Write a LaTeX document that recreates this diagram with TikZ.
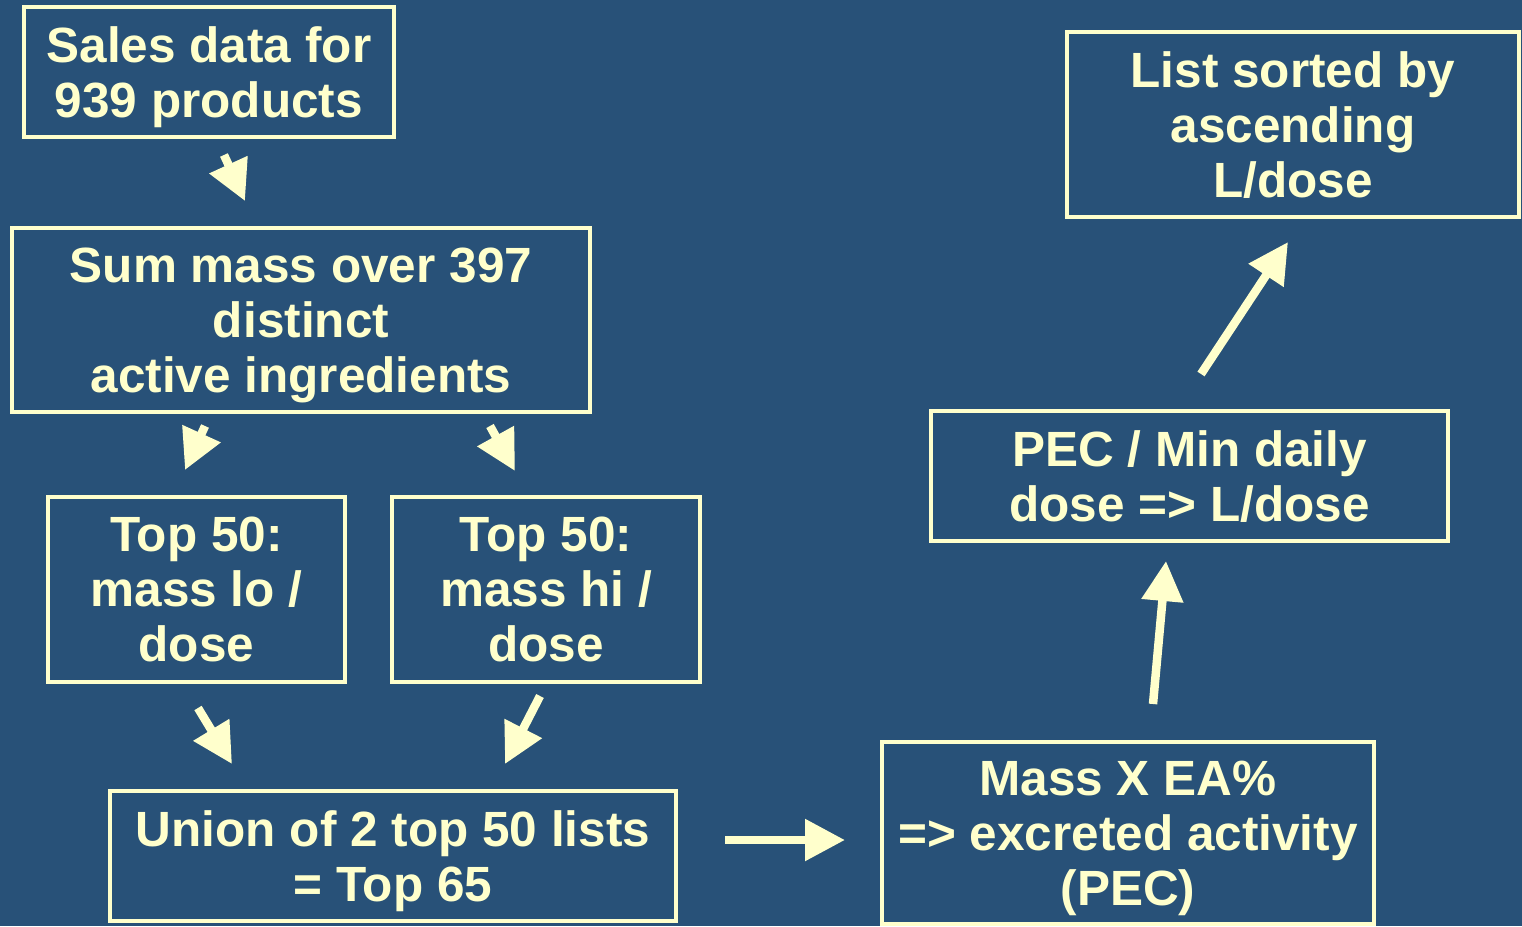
\documentclass[tikz,border=0pt]{standalone}
\usepackage{fontspec}
\setmainfont{Liberation Sans}
\usepackage{xcolor}
\usetikzlibrary{arrows.meta}
\definecolor{slide}{RGB}{40,81,120}
\definecolor{chalk}{RGB}{255,255,204}
\tikzset{
box/.style={draw=chalk,line width=4pt,text=chalk,align=center,inner sep=0pt,
text depth=0pt,font=\fontsize{49.5}{55}\selectfont\bfseries},
flow/.style={draw=chalk,fill=chalk,line width=8.5pt,-{Triangle[length=40pt,width=40pt]}}
}

\begin{document}
\begin{tikzpicture}[x=1pt,y=-1pt]
\fill[slide] (0,0) rectangle (1522,926);
\useasboundingbox (0,0) rectangle (1522,926);
\node[box,minimum width=370pt,minimum height=130pt] (sales) at (209,72) {Sales data for\\939 products};
\node[box,minimum width=578pt,minimum height=184pt] (sum) at (301,320) {Sum mass over 397\\distinct\\active ingredients};
\node[box,minimum width=297pt,minimum height=185pt] (lo) at (196.5,589.5) {Top 50:\\mass lo /\\dose};
\node[box,minimum width=308pt,minimum height=185pt] (hi) at (546,589.5) {Top 50:\\mass hi /\\dose};
\node[box,minimum width=566pt,minimum height=130pt] (union) at (393,856) {Union of 2 top 50 lists\\= Top 65};
\node[box,minimum width=492pt,minimum height=182pt] (mass) at (1128,833) {Mass X EA\%\\=> excreted activity\\(PEC)};
\node[box,minimum width=517pt,minimum height=130pt] (pec) at (1189.5,476) {PEC / Min daily\\dose => L/dose};
\node[box,minimum width=452pt,minimum height=185pt] (list) at (1293,124.5) {List sorted by\\ascending\\L/dose};
\draw[flow] ([shift={(15,16)}]sales.south) -- ([shift={(-56,-25)}]sum.north);
\draw[flow] ([shift={(-96,12)}]sum.south) -- ([shift={(-11.5,-25)}]lo.north);
\draw[flow] ([shift={(189,12)}]sum.south) -- ([shift={(-31,-24)}]hi.north);
\draw[flow] ([shift={(1.5,24)}]lo.south) -- ([shift={(-161,-25)}]union.north);
\draw[flow] ([shift={(-6,12)}]hi.south) -- ([shift={(112,-25)}]union.north);
\draw[flow] ([shift={(47,-16)}]union.east) -- ([shift={(-35,7)}]mass.west);
\draw[flow] ([shift={(25,-36)}]mass.north) -- ([shift={(-23.5,18)}]pec.south);
\draw[flow] ([shift={(11.5,-35)}]pec.north) -- ([shift={(-5,23)}]list.south);
\end{tikzpicture}
\end{document}
